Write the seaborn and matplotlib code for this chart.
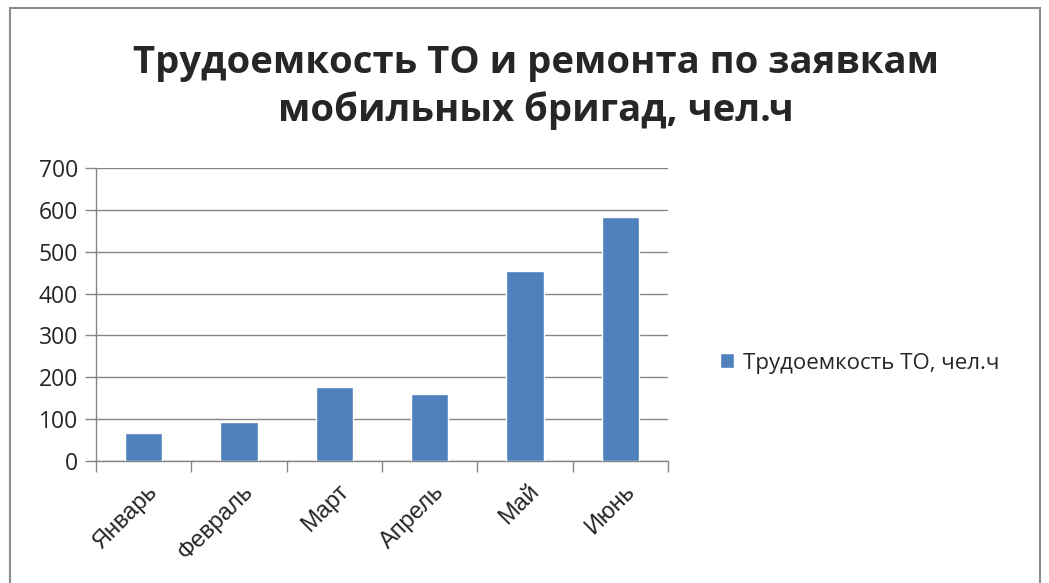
import matplotlib
matplotlib.use("Agg")
import matplotlib.pyplot as plt
import matplotlib.transforms as mtrans
import seaborn as sns
import pandas as pd
from matplotlib.patches import Rectangle

months = ["Январь", "Февраль", "Март", "Апрель", "Май", "Июнь"]
values = [68, 93, 176, 160, 455, 584]
series_name = "Трудоемкость ТО, чел.ч"
title = "Трудоемкость ТО и ремонта по заявкам\nмобильных бригад, чел.ч"
y_ticks = [0, 100, 200, 300, 400, 500, 600, 700]

sns.set_theme(style="white")
plt.rcParams['font.family'] = ['Open Sans', 'DejaVu Sans']

df = pd.DataFrame({"month": months, "value": values})

fig = plt.figure(figsize=(10.49, 5.83), dpi=100)
ax = fig.add_axes([96/1049, 1-461/583, (668-96)/1049, (461-168)/583])

grid_c = "#868686"
sns.barplot(data=df, x="month", y="value", color="#4F81BD", width=0.39,
            saturation=1, label=series_name, ax=ax, zorder=3)

ax.set_xlim(-0.5, 5.5)
ax.set_ylim(0, 700)
ax.set_yticks(y_ticks)
ax.yaxis.grid(True, color=grid_c, linewidth=1, zorder=0)
ax.set_axisbelow(True)
for s in ["top", "right"]:
    ax.spines[s].set_visible(False)
for s in ["left", "bottom"]:
    ax.spines[s].set_color(grid_c)
    ax.spines[s].set_linewidth(1)

ax.tick_params(axis="y", which="major", length=8, color=grid_c, width=1,
               labelsize=16.5, pad=5, left=True)
ax.set_yticklabels([str(t) for t in y_ticks], family=['Open Sans', 'DejaVu Sans'])
ax.set_xticks(range(len(months)))
ax.set_xticks([i - 0.5 for i in range(len(months) + 1)], minor=True)
ax.tick_params(axis="x", which="major", length=0, pad=14)
ax.tick_params(axis="x", which="minor", length=8, color=grid_c, width=1, bottom=True)
ax.set_xticklabels(months, rotation=45, ha="right", rotation_mode="anchor",
                   fontsize=17, family=['Liberation Sans', 'DejaVu Sans'])
offset = mtrans.ScaledTranslation(3/100, 0, fig.dpi_scale_trans)
for lbl in ax.get_xticklabels():
    lbl.set_transform(lbl.get_transform() + offset)
ax.set_xlabel("")
ax.set_ylabel("")

ax.legend().remove()
handles, labels = ax.get_legend_handles_labels()
fig.legend(handles, labels, loc="center left", bbox_to_anchor=(700/1049, 1-363/583),
           frameon=False, fontsize=16, handlelength=0.65, handleheight=0.65,
           handletextpad=0.4)

fig.text(536/1049, 1-87/583, title, ha="center", va="center", fontsize=27.5,
         fontweight="bold", linespacing=1.3)

fig.patches.append(Rectangle((10/1049, -0.05), (1040-10)/1049, (583-8)/583 + 0.05,
                             transform=fig.transFigure, fill=False,
                             edgecolor="#8c8c8c", linewidth=1.5))

fig.savefig("out.png", dpi=100)
